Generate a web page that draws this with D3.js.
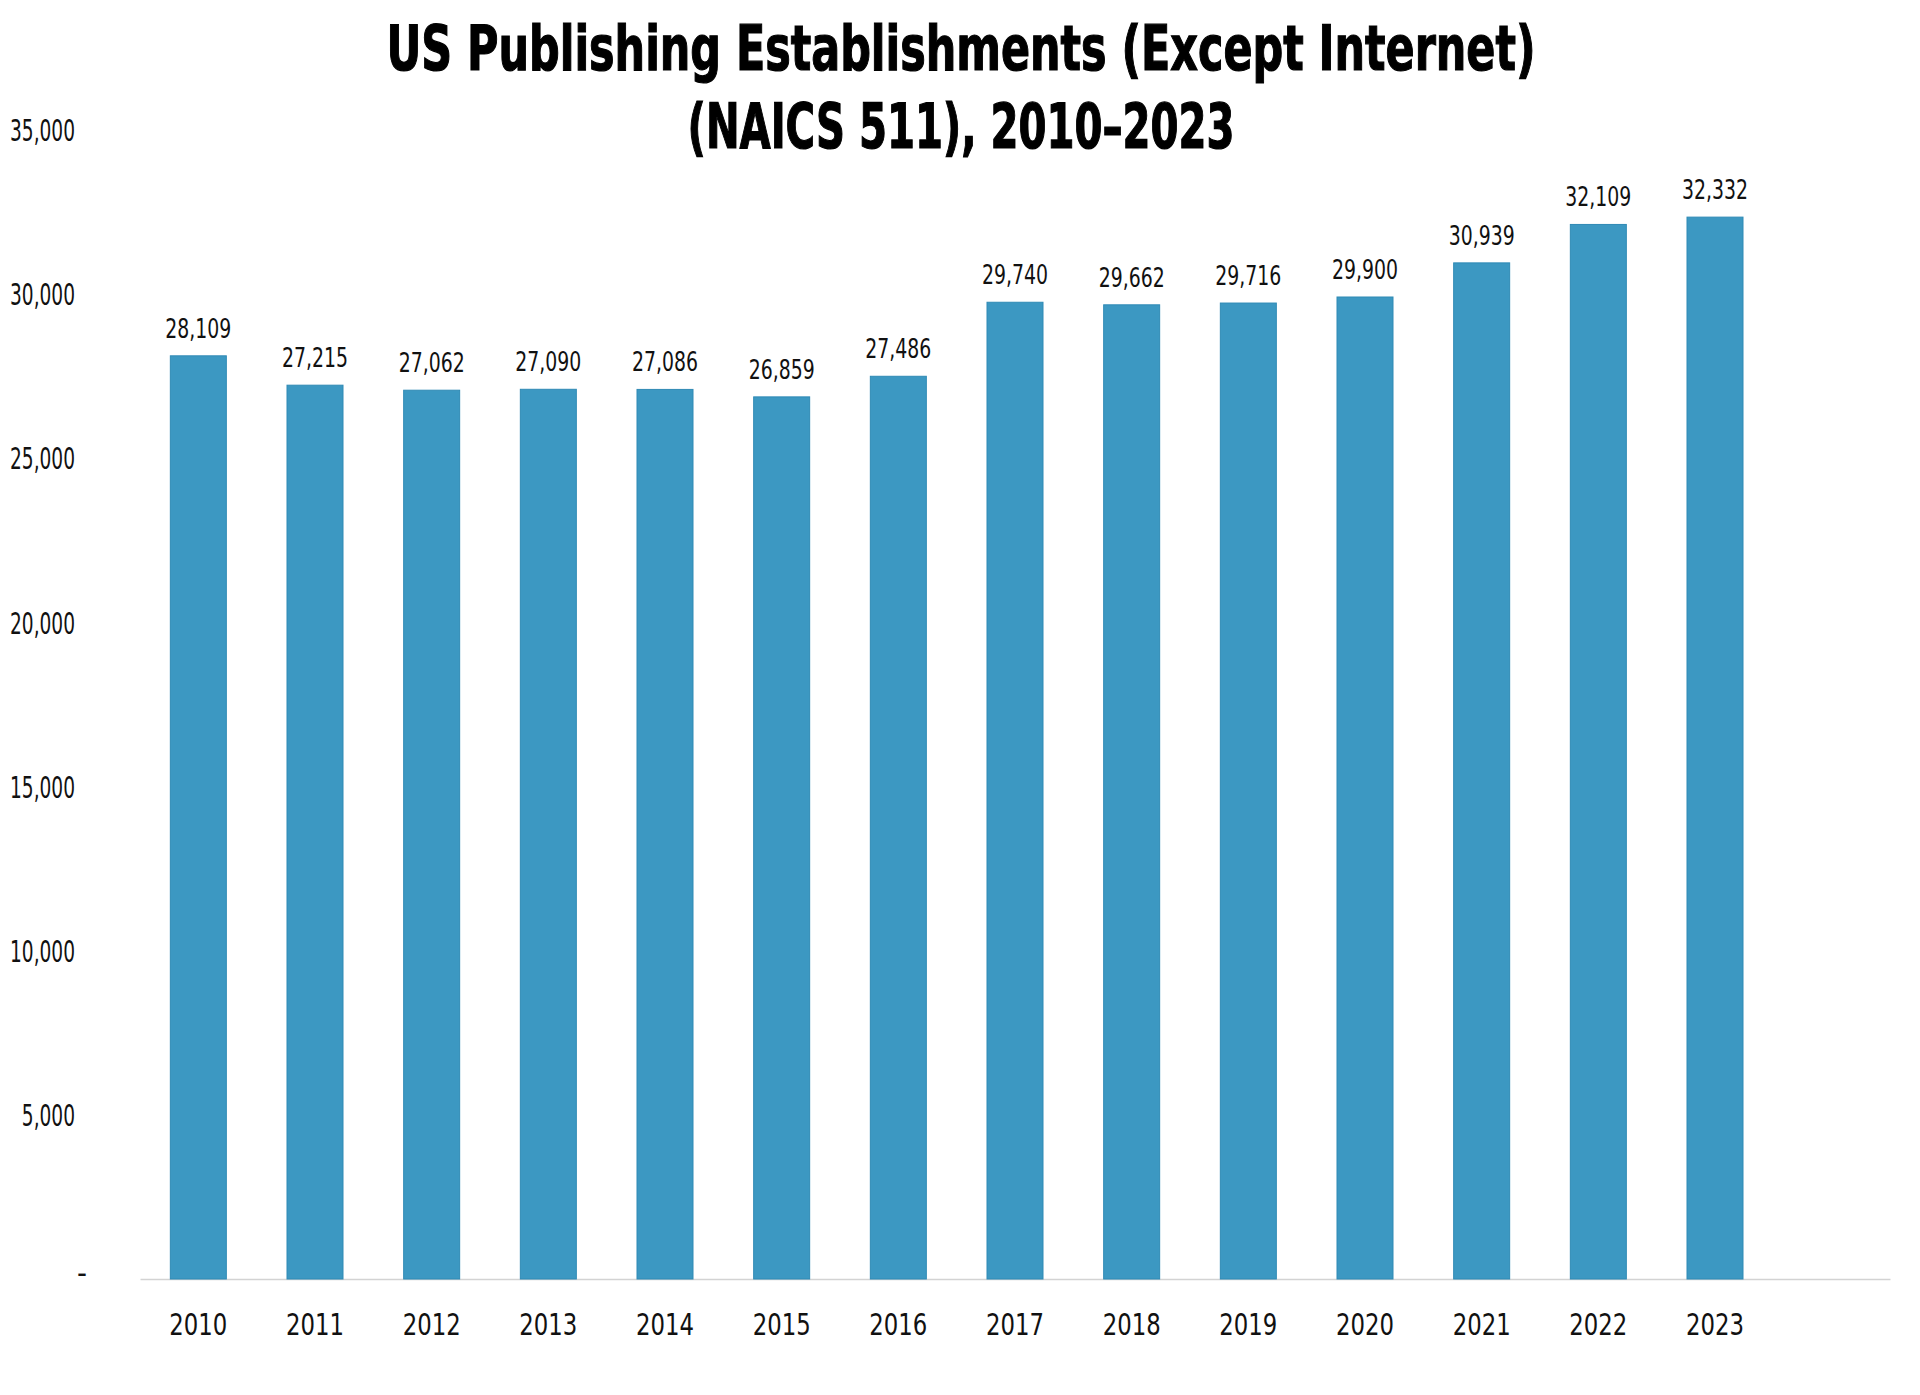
<!DOCTYPE html>
<html>
<head>
<meta charset="utf-8">
<script src="https://cdn.jsdelivr.net/npm/d3@7"></script>
<style>
  html, body { margin: 0; padding: 0; background: #fff; }
  svg { display: block; }
  .cond { font-family: "DejaVu Sans Condensed", "Liberation Sans Narrow", sans-serif; }
</style>
</head>
<body>
<svg id="chart" width="1920" height="1395"></svg>
<script>
const titleLines = ["US Publishing Establishments (Except Internet)", "(NAICS 511), 2010\u20132023"];
const years = ["2010","2011","2012","2013","2014","2015","2016","2017","2018","2019","2020","2021","2022","2023"];
const values = [28109, 27215, 27062, 27090, 27086, 26859, 27486, 29740, 29662, 29716, 29900, 30939, 32109, 32332];
const yTicks = [0, 5000, 10000, 15000, 20000, 25000, 30000, 35000];

const svg = d3.select("#chart");

// 15 slots: 14 years plus one empty slot at the end
const domain = years.concat([""]);
const x = d3.scaleBand().domain(domain).range([140, 1890]).paddingInner(0.52).paddingOuter(0.26);
const y = d3.scaleLinear().domain([0, 35000]).range([1279, 129.5]);

const fmt = d3.format(",");

// narrow a text selection horizontally so a sample string reaches a target width
function narrow(sel, sampleWidth, sampleText) {
  let factor = 1;
  sel.each(function() {
    if (this.textContent === sampleText) factor = sampleWidth / this.getComputedTextLength();
  });
  sel.each(function() {
    const w = this.getComputedTextLength();
    if (w > 0) d3.select(this).attr("textLength", w * factor).attr("lengthAdjust", "spacingAndGlyphs");
  });
}

// Title
const title = svg.append("g").attr("class", "cond");
const titleTargets = [{w: 1149, y: 70}, {w: 547, y: 148}];
titleLines.forEach((t, i) => {
  title.append("text")
    .attr("x", 961).attr("y", titleTargets[i].y)
    .attr("text-anchor", "middle")
    .attr("font-size", 63).attr("font-weight", 700)
    .attr("fill", "#000")
    .attr("stroke", "#000").attr("stroke-width", 1.2)
    .attr("textLength", titleTargets[i].w).attr("lengthAdjust", "spacingAndGlyphs")
    .text(t);
});

// Y axis
const yAxis = d3.axisLeft(y).tickValues(yTicks)
  .tickFormat(d => d === 0 ? "-" : fmt(d)).tickSize(0).tickPadding(0);
const yg = svg.append("g").attr("class", "cond").attr("transform", "translate(75,0)").call(yAxis);
yg.select(".domain").remove();
const ytext = yg.selectAll("text").attr("font-size", 31).attr("fill", "#111").attr("dy", "0.35em").attr("font-family", null);
narrow(ytext, 65, "35,000");
yg.selectAll("text").filter(d => d === 0)
  .attr("dx", 12).attr("dy", "0.12em")
  .attr("textLength", 10).attr("lengthAdjust", "spacingAndGlyphs");

// X axis
const xAxis = d3.axisBottom(x).tickValues(years).tickSize(0).tickPadding(0);
const xg = svg.append("g").attr("class", "cond").attr("transform", "translate(0,1279)").call(xAxis);
xg.select(".domain").attr("stroke", "#d3d3d3").attr("stroke-width", 1.5);
const xtext = xg.selectAll("text").attr("font-size", 31).attr("fill", "#111").attr("y", 56).attr("dy", null).attr("font-family", null);
narrow(xtext, 58, "2010");

// Bars
svg.append("g").selectAll("rect").data(values).join("rect")
  .attr("x", (d, i) => x(years[i]))
  .attr("width", x.bandwidth())
  .attr("y", d => y(d))
  .attr("height", d => y(0) - y(d))
  .attr("fill", "#3c98c2")
  .attr("stroke", "#2f8ab5")
  .attr("stroke-width", 1);

// Value labels
const vtext = svg.append("g").attr("class", "cond").selectAll("text").data(values).join("text")
  .attr("x", (d, i) => x(years[i]) + x.bandwidth() / 2)
  .attr("y", d => y(d) - 18)
  .attr("text-anchor", "middle")
  .attr("font-size", 27)
  .attr("fill", "#111")
  .text(d => fmt(d));
narrow(vtext, 66, "28,109");
</script>
</body>
</html>
